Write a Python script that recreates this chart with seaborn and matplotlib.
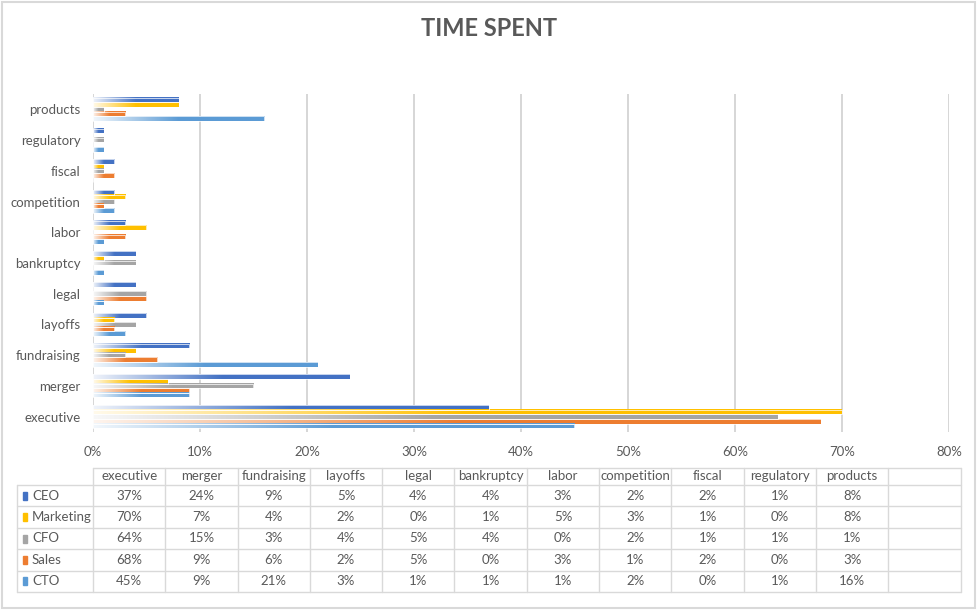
import numpy as np
import pandas as pd
import matplotlib
matplotlib.use("Agg")
import matplotlib.pyplot as plt
import matplotlib.colors as mcolors
from matplotlib.patches import Rectangle
from matplotlib.ticker import PercentFormatter
import seaborn as sns

# data (percent of time spent)
categories = ["executive", "merger", "fundraising", "layoffs", "legal", "bankruptcy",
              "labor", "competition", "fiscal", "regulatory", "products"]
roles = ["CEO", "Marketing", "CFO", "Sales", "CTO"]
ceo = [37, 24, 9, 5, 4, 4, 3, 2, 2, 1, 8]
marketing = [70, 7, 4, 2, 0, 1, 5, 3, 1, 0, 8]
cfo = [64, 15, 3, 4, 5, 4, 0, 2, 1, 1, 1]
sales = [68, 9, 6, 2, 5, 0, 3, 1, 2, 0, 3]
cto = [45, 9, 21, 3, 1, 1, 1, 2, 0, 1, 16]
colors = ["#4472C4", "#FFC000", "#A5A5A5", "#ED7D31", "#5B9BD5"]

values = dict(zip(roles, [ceo, marketing, cfo, sales, cto]))

rows = []
for r in roles:
    for c, v in zip(categories, values[r]):
        rows.append({"task": c, "role": r, "share": v})
df = pd.DataFrame(rows)

sns.set_theme(style="white")
plt.rcParams["font.family"] = ["Lato", "DejaVu Sans"]

W, H = 979, 610
TXT = "#595959"
LINE = "#d9d9d9"

fig = plt.figure(figsize=(W / 100, H / 100), dpi=100)

# pixel overlay for frame and data table
bg = fig.add_axes([0, 0, 1, 1], zorder=0)
bg.set_xlim(0, W)
bg.set_ylim(H, 0)
bg.axis("off")
bg.add_patch(Rectangle((2, 2), W - 6, H - 4, fill=False, ec=LINE, lw=1.5))

# -------------------------
# bar chart
# -------------------------
ax = fig.add_axes([93 / W, 1 - 432 / H, (949 - 93) / W, (432 - 94) / H], zorder=1)
ax.patch.set_alpha(0)

sns.barplot(data=df, y="task", x="share", hue="role", order=categories[::-1],
            hue_order=roles, palette=dict(zip(roles, colors)), orient="h",
            width=0.75, gap=0, errorbar=None, legend=False, ax=ax)

# excel style gradient fill: pale on the left, full colour after half the bar
t = np.linspace(0, 1, 200)
mix = np.clip(0.08 + 0.92 * t / 0.5, 0, 1)
for cont, col in zip(ax.containers, colors):
    rgb = np.array(mcolors.to_rgb(col))
    grad = 1 - (1 - rgb)[None, :] * mix[:, None]
    for bar in cont:
        w = bar.get_width()
        bar.set_facecolor("none")
        bar.set_edgecolor("white")
        bar.set_linewidth(0.5)
        bar.set_zorder(3)
        if w <= 0:
            continue
        x0, y0, h = bar.get_x(), bar.get_y(), bar.get_height()
        ax.imshow(grad[None], extent=[x0, x0 + w, y0 + h, y0], aspect="auto",
                  interpolation="bilinear", zorder=2)

ax.set_xlim(0, 80)
ax.set_ylim(10.5, -0.5)
ax.set_xticks(range(0, 81, 10))
ax.xaxis.set_major_formatter(PercentFormatter(decimals=0))
ax.grid(axis="x", color="#d0d0d0", lw=1.2)
ax.set_axisbelow(True)
for s in ax.spines.values():
    s.set_visible(False)
ax.tick_params(axis="x", length=0, labelsize=9.5, labelcolor=TXT, pad=10)
ax.tick_params(axis="y", length=0, labelsize=9.5, labelcolor=TXT, pad=9)
ax.set_xlabel("")
ax.set_ylabel("")

fig.text(489 / W, 1 - 29 / H, "TIME SPENT", ha="center", va="center",
         fontsize=17, fontweight="bold", color=TXT)

# -------------------------
# data table
# -------------------------
left, cw, ncols = 93, 72.3, 12
head_top, head_bot, rh = 468, 485, 21.4
right = left + cw * ncols
bottom = head_bot + rh * len(roles)

bg.plot([left, right], [head_top, head_top], color=LINE, lw=1)
for i in range(len(roles) + 1):
    yy = head_bot + i * rh
    bg.plot([17, right], [yy, yy], color=LINE, lw=1)
bg.plot([17, 17], [head_bot, bottom], color=LINE, lw=1)
for j in range(ncols + 1):
    xx = left + j * cw
    bg.plot([xx, xx], [head_top, bottom], color=LINE, lw=1)

for j, c in enumerate(categories):
    bg.text(left + (j + 0.5) * cw, (head_top + head_bot) / 2, c, ha="center",
            va="center", fontsize=9.5, color=TXT)

for i, r in enumerate(roles):
    yc = head_bot + (i + 0.5) * rh
    bg.add_patch(Rectangle((23, yc - 4), 4, 8, color=colors[i]))
    bg.text(32, yc, r, ha="left", va="center", fontsize=9.5, color=TXT)
    for j, v in enumerate(values[r]):
        bg.text(left + (j + 0.5) * cw, yc, f"{v}%", ha="center", va="center",
                fontsize=9.5, color=TXT)

fig.savefig("out.png", dpi=100)
